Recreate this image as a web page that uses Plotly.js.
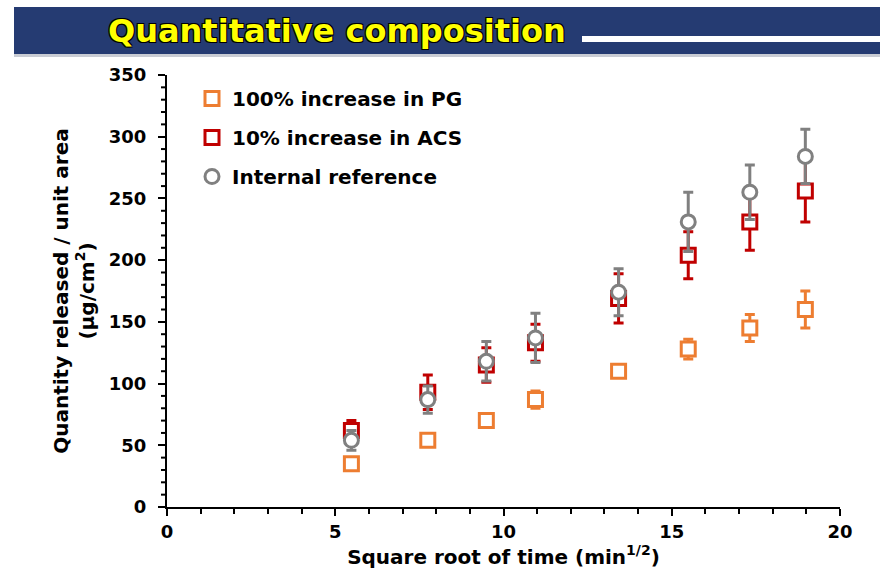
<!DOCTYPE html>
<html>
<head>
<meta charset="utf-8">
<script src="https://cdn.plot.ly/plotly-3.0.1.min.js"></script>
<style>html,body{margin:0;padding:0;background:#fff;}#chart{width:880px;height:575px;}</style>
</head>
<body>
<div id="chart"></div>
<script>
// ---- data ----
const sqrtTime = [5.48, 7.75, 9.49, 10.95, 13.42, 15.49, 17.32, 18.97];
const pgValues = [35, 54, 70, 87, 110, 128, 145, 160];
const pgErrors = [3, 4, 4, 7, 5, 8, 11, 15];
const acsValues = [62, 93, 115, 133, 169, 204, 231, 256];
const acsErrors = [8, 14, 14, 15, 20, 19, 23, 25];
const refValues = [54, 87, 118, 137, 174, 231, 255, 284];
const refErrors = [8, 11, 16, 20, 19, 24, 22, 22];
const seriesNames = ["100% increase in PG", "10% increase in ACS", "Internal reference"];
const titleText = "Quantitative composition";
const xTitle = "Square root of time (min<sup>1/2</sup>)";
const yTitle = "Quantity released / unit area<br>(µg/cm<sup>2</sup>)";

// ---- layout geometry ----
const W = 880, H = 575;
const M = {l: 167, r: 40, t: 75, b: 68};
const PW = W - M.l - M.r, PH = H - M.t - M.b;
const px = x => (x - M.l) / PW;      // pixel -> paper x
const py = y => (H - M.b - y) / PH;  // pixel -> paper y

const FONT = "DejaVu Sans, Liberation Sans, Arial, sans-serif";
const ORANGE = "#ED7D31", RED = "#C00000", GRAY = "#808080";

function mk(name, y, err, color, symbol, size, rank) {
  return {
    type: "scatter", mode: "markers", name: name, x: sqrtTime, y: y,
    legendgroup: name, legendrank: rank,
    marker: {symbol: symbol, size: size, color: "#FFFFFF", line: {color: color, width: 3}},
    error_y: {type: "data", array: err, visible: true, color: color, thickness: 3, width: 5},
    cliponaxis: false
  };
}

const traces = [
  mk(seriesNames[0], pgValues, pgErrors, ORANGE, "square", 14, 1),
  mk(seriesNames[1], acsValues, acsErrors, RED, "square", 14, 2),
  mk(seriesNames[2], refValues, refErrors, GRAY, "circle", 14, 3)
];

const shapes = [
  {type: "rect", xref: "paper", yref: "paper", x0: px(14), x1: px(880), y0: py(54), y1: py(7),
   fillcolor: "#253B72", line: {width: 0}, layer: "below"},
  {type: "rect", xref: "paper", yref: "paper", x0: px(14), x1: px(880), y0: py(57), y1: py(54),
   fillcolor: "#C9CCD4", line: {width: 0}, layer: "below"},
  {type: "rect", xref: "paper", yref: "paper", x0: px(582), x1: px(880), y0: py(42), y1: py(36),
   fillcolor: "#FFFFFF", line: {width: 0}, layer: "below"}
];
// minor tick marks on the y axis every 10 units (positioned by the y scale)
for (let v = 10; v < 350; v += 10) {
  if (v % 50 === 0) continue;
  shapes.push({type: "line", xref: "paper", yref: "y", x0: px(161), x1: px(166), y0: v, y1: v,
               line: {color: "#000", width: 2}, layer: "above"});
}

const axisFont = {family: FONT, size: 18, weight: "bold"};

const layout = {
  width: W, height: H,
  margin: M,
  paper_bgcolor: "#fff", plot_bgcolor: "#fff",
  font: {family: FONT, color: "#000", size: 18},
  showlegend: true,
  legend: {
    x: px(192), y: py(79), xanchor: "left", yanchor: "top",
    bgcolor: "rgba(0,0,0,0)", font: {family: FONT, size: 20, weight: "bold", color: "#000"},
    tracegroupgap: 10, itemwidth: 30
  },
  xaxis: {
    range: [0, 20], dtick: 5, showgrid: false, zeroline: false,
    showline: true, linecolor: "#000", linewidth: 2,
    ticks: "outside", ticklen: 7, tickwidth: 2, tickcolor: "#000",
    minor: {dtick: 1, ticks: "outside", ticklen: 5, tickwidth: 2, tickcolor: "#000", showgrid: false},
    tickfont: axisFont,
    title: {text: xTitle, font: {family: FONT, size: 20, weight: "bold"}, standoff: 9}
  },
  yaxis: {
    range: [0, 350], dtick: 50, showgrid: false, zeroline: false,
    showline: true, linecolor: "#000", linewidth: 2,
    ticks: "outside", ticklen: 7, tickwidth: 2, tickcolor: "#000",
    ticklabelstandoff: 8,
    tickfont: axisFont,
    title: {text: yTitle, font: {family: FONT, size: 20, weight: "bold"}, standoff: 9}
  },
  shapes: shapes,
  annotations: [
    {text: titleText, xref: "paper", yref: "paper", x: px(106), y: py(31),
     xanchor: "left", yanchor: "middle", showarrow: false,
     font: {family: FONT, size: 32, weight: "bold", color: "#FFFF00",
            shadow: "-1px -1px 0 #000, 1px -1px 0 #000, -1px 1px 0 #000, 1px 1px 0 #000"}}
  ]
};

Plotly.newPlot("chart", traces, layout, {displayModeBar: false, staticPlot: true});
</script>
</body>
</html>
